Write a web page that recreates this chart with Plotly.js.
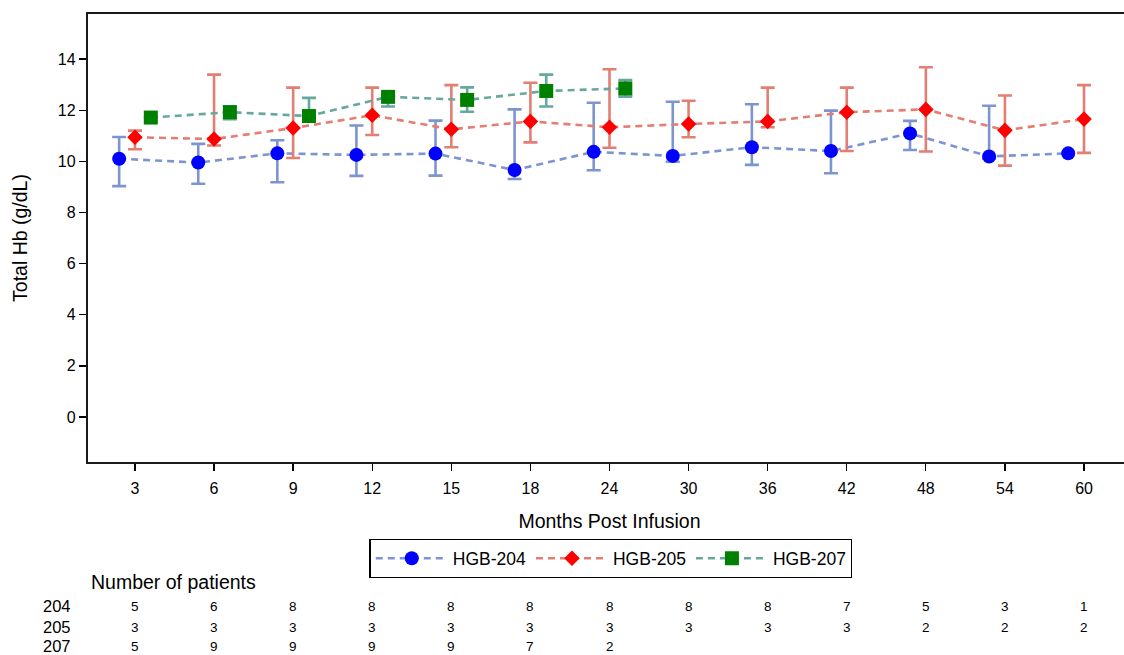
<!DOCTYPE html>
<html>
<head>
<meta charset="utf-8">
<script src="https://cdn.plot.ly/plotly-3.0.1.min.js"></script>
<style>
html,body{margin:0;padding:0;overflow:hidden;background:#fff;}
#chart{width:1140px;height:655px;}
</style>
</head>
<body>
<div id="chart"></div>
<script>
// ---- data ----
var categories = ['3','6','9','12','15','18','24','30','36','42','48','54','60'];

var hgb204Mean  = [10.10, 9.95, 10.31, 10.25, 10.30, 9.66, 10.37, 10.21, 10.55, 10.40, 11.09, 10.19, 10.31];
var hgb204Upper = [10.95, 10.68, 10.82, 11.40, 11.59, 12.03, 12.29, 12.33, 12.23, 11.98, 11.58, 12.17, null];
var hgb204Lower = [9.03, 9.12, 9.18, 9.43, 9.44, 9.31, 9.65, 9.98, 9.86, 9.53, 10.44, 10.10, null];

var hgb205Mean  = [10.94, 10.87, 11.30, 11.80, 11.25, 11.56, 11.33, 11.46, 11.56, 11.92, 12.03, 11.21, 11.65];
var hgb205Upper = [11.20, 13.39, 12.88, 12.88, 12.98, 13.07, 13.60, 12.37, 12.88, 12.88, 13.68, 12.57, 12.98];
var hgb205Lower = [10.47, 10.62, 10.13, 11.03, 10.55, 10.74, 10.53, 10.94, 11.33, 10.40, 10.38, 9.83, 10.33];

var hgb207Mean  = [11.71, 11.92, 11.77, 12.52, 12.40, 12.75, 12.85];
var hgb207Upper = [11.71, 12.15, 12.48, 12.60, 12.89, 13.39, 13.18];
var hgb207Lower = [11.71, 11.65, 11.65, 12.14, 11.94, 12.14, 12.53];

var n204 = [5, 6, 8, 8, 8, 8, 8, 8, 8, 7, 5, 3, 1];
var n205 = [3, 3, 3, 3, 3, 3, 3, 3, 3, 3, 2, 2, 2];
var n207 = [5, 9, 9, 9, 9, 7, 2];

var seriesNames = ['HGB-204', 'HGB-205', 'HGB-207'];
var rowLabels = ['204', '205', '207'];

// ---- build ----
var FONT = 'Liberation Sans, Arimo, Arial, sans-serif';
function plus(m, u){ return m.map(function(v,i){ return (u[i]==null||v==null)?NaN:u[i]-v; }); }
function minus(m, l){ return m.map(function(v,i){ return (l[i]==null||v==null)?NaN:v-l[i]; }); }
function xs(arr, off){ return arr.map(function(_,i){ return i+off; }); }

function trace(name, mean, up, lo, off, lineColor, mColor, symbol, size){
  return {
    type:'scatter', mode:'lines+markers', name:name,
    x: xs(mean, off), y: mean,
    line:{color:lineColor, width:2.6, dash:'7px,5px'},
    marker:{color:mColor, symbol:symbol, size:size, line:{width:0}},
    error_y:{type:'data', symmetric:false, array:plus(mean,up), arrayminus:minus(mean,lo),
             color:lineColor, thickness:2.6, width:7},
    cliponaxis:false
  };
}

var data = [
  trace(seriesNames[0], hgb204Mean, hgb204Upper, hgb204Lower, -0.2, '#7C94CF', '#0000FF', 'circle', 14),
  trace(seriesNames[1], hgb205Mean, hgb205Upper, hgb205Lower, 0, '#E27E72', '#FF0000', 'diamond', 12),
  trace(seriesNames[2], hgb207Mean, hgb207Upper, hgb207Lower, 0.2, '#66A89F', '#008000', 'square', 14)
];

var annotations = [];
var rowY = [-0.322, -0.369, -0.411];
var counts = [n204, n205, n207];
annotations.push({xref:'paper', yref:'paper', x:0.0005, y:-0.268, xanchor:'left', yanchor:'middle',
  text:'Number of patients', showarrow:false, font:{family:FONT, size:19.5, color:'#000'}});
rowLabels.forEach(function(lbl, r){
  annotations.push({xref:'paper', yref:'paper', x:-0.0144, y:rowY[r], xanchor:'right', yanchor:'middle',
    text:lbl, showarrow:false, font:{family:FONT, size:16.5, color:'#000'}});
  counts[r].forEach(function(n, i){
    annotations.push({xref:'x', yref:'paper', x:i, y:rowY[r], xanchor:'center', yanchor:'middle',
      text:String(n), showarrow:false, font:{family:FONT, size:13.5, color:'#000'}});
  });
});

var layout = {
  width:1140, height:655,
  margin:{l:88, r:9, t:14, b:193},
  paper_bgcolor:'#fff', plot_bgcolor:'#fff',
  font:{family:FONT, color:'#000'},
  showlegend:true,
  legend:{orientation:'h', x:0.5014, xanchor:'center', y:-0.172, yanchor:'top',
          bordercolor:'#000', borderwidth:1.3, font:{family:FONT, size:17.5, color:'#000'},
          itemwidth:72, tracegroupgap:0, itemsizing:'trace'},
  xaxis:{range:[-0.594, 12.594], tickmode:'array', tickvals:categories.map(function(_,i){return i;}),
         ticktext:categories, ticks:'outside', ticklen:7, tickwidth:1.3, tickcolor:'#000',
         ticklabelstandoff:4,
         showgrid:false, zeroline:false, showline:true, linecolor:'#1a1a1a', linewidth:2.2, mirror:true,
         tickfont:{family:FONT, size:16, color:'#000'},
         title:{text:'Months Post Infusion', font:{family:FONT, size:19.5, color:'#000'}, standoff:18}},
  yaxis:{range:[-1.76, 15.76], tickmode:'array', tickvals:[0,2,4,6,8,10,12,14],
         ticks:'outside', ticklen:7, tickwidth:1.3, tickcolor:'#000',
         showgrid:false, zeroline:false, showline:true, linecolor:'#1a1a1a', linewidth:2.2, mirror:true,
         tickfont:{family:FONT, size:16, color:'#000'},
         title:{text:'Total Hb (g/dL)', font:{family:FONT, size:19.5, color:'#000'}, standoff:25}},
  annotations:annotations
};

Plotly.newPlot('chart', data, layout, {displayModeBar:false, staticPlot:true});
</script>
</body>
</html>
